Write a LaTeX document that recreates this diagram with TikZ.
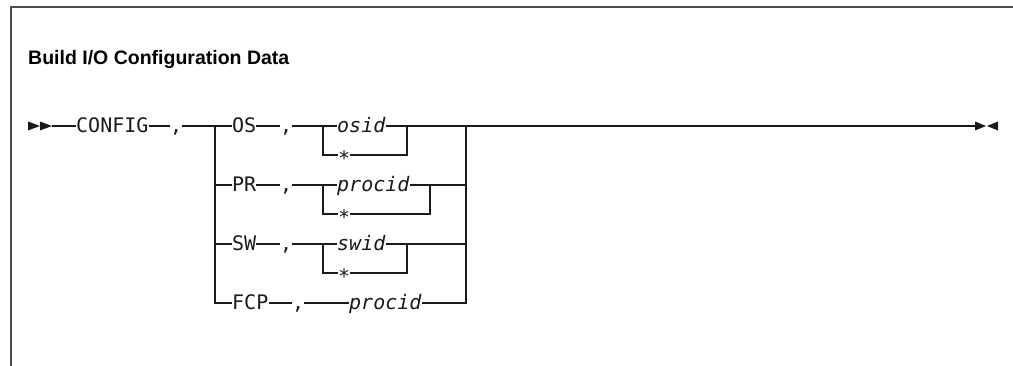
\documentclass[tikz,border=0pt]{standalone}
\usepackage{fontspec}
\setmainfont{Liberation Sans}
\setmonofont{DejaVu Sans Mono}
\usepackage{tikz}
\definecolor{ink}{HTML}{1A1A1A}
\definecolor{rule}{HTML}{4D4D4D}

\begin{document}
\begin{tikzpicture}[
  x=1pt, y=-1pt,
  tok/.style     = {anchor=west, inner sep=0pt, text height=14pt, text depth=0pt,
                    text=ink, font=\fontsize{20}{20}\selectfont\ttfamily},
  var/.style     = {tok, font=\fontsize{20}{20}\selectfont\ttfamily\itshape},
  rail/.style    = {draw=ink, line width=1.1pt},
  boxline/.style = {draw=rule, line width=2pt},
  tipfill/.style = {fill=ink},
]
  \useasboundingbox (0,0) rectangle (1013,366);
  \draw[boxline] (11,366) -- (11,7) -- (1013,7);

  \node[anchor=base west, inner sep=0pt, font=\fontsize{19.5}{19.5}\selectfont\bfseries] (title) at (28,65) {Build I/O Configuration Data};

  \coordinate (entry) at (52,126);
  \node[tok] (config) at (76,126)  {CONFIG};
  \node[tok] (c0)     at (170,126) {,};

  \node[tok] (os)     at (232,126) {OS};
  \node[tok] (c1)     at (280,126) {,};
  \node[var] (osid)   at (337,126) {osid};
  \node[tok] (star1)  at (338,155) {\raisebox{-3.5pt}{*}};

  \node[tok] (pr)     at (232,185) {PR};
  \node[tok] (c2)     at (280,185) {,};
  \node[var] (procid) at (337,185) {procid};
  \node[tok] (star2)  at (338,214) {\raisebox{-3.5pt}{*}};

  \node[tok] (sw)     at (232,244) {SW};
  \node[tok] (c3)     at (280,244) {,};
  \node[var] (swid)   at (337,244) {swid};
  \node[tok] (star3)  at (338,273) {\raisebox{-3.5pt}{*}};

  \node[tok] (fcp)    at (232,303) {FCP};
  \node[tok] (c4)     at (292,303) {,};
  \node[var] (fcpid)  at (349,303) {procid};

  \coordinate (split) at (215,126);
  \coordinate (splitend) at (215,303);
  \coordinate (k1) at (323,126);  \coordinate (k1s) at (323,155);
  \coordinate (k2) at (323,185);  \coordinate (k2s) at (323,214);
  \coordinate (k3) at (323,244);  \coordinate (k3s) at (323,273);
  \coordinate (e1) at (407,126);  \coordinate (e1s) at (407,155);
  \coordinate (e2) at (430,185);  \coordinate (e2s) at (430,214);
  \coordinate (e3) at (407,244);  \coordinate (e3s) at (407,273);
  \coordinate (join) at (466,126);
  \coordinate (joinend) at (466,303);
  \coordinate (exit) at (975,126);

  \fill[tipfill] (28,121.5) -- (40,126) -- (28,130.5) -- cycle;
  \fill[tipfill] (40,121.5) -- (entry) -- (40,130.5) -- cycle;
  \fill[tipfill] (975,121.5) -- (986,126) -- (975,130.5) -- cycle;
  \fill[tipfill] (998,121.5) -- (987,126) -- (998,130.5) -- cycle;

  \draw[rail] (entry) -- (config);
  \draw[rail] (config) -- (c0);
  \draw[rail] (c0) -- (os);
  \draw[rail] (split) -- (splitend) -- (fcp);
  \draw[rail] (split |- pr) -- (pr);
  \draw[rail] (split |- sw) -- (sw);

  \draw[rail] (os) -- (c1);
  \draw[rail] (c1) -- (osid);
  \draw[rail] (k1) -- (k1s) -- (star1);
  \draw[rail] (osid) -- (e1) -- (join);
  \draw[rail] (star1) -- (e1s) -- (e1);

  \draw[rail] (pr) -- (c2);
  \draw[rail] (c2) -- (procid);
  \draw[rail] (k2) -- (k2s) -- (star2);
  \draw[rail] (procid) -- (e2) -- (join |- e2);
  \draw[rail] (star2) -- (e2s) -- (e2);

  \draw[rail] (sw) -- (c3);
  \draw[rail] (c3) -- (swid);
  \draw[rail] (k3) -- (k3s) -- (star3);
  \draw[rail] (swid) -- (e3) -- (join |- e3);
  \draw[rail] (star3) -- (e3s) -- (e3);

  \draw[rail] (fcp) -- (c4);
  \draw[rail] (c4) -- (fcpid);
  \draw[rail] (fcpid) -- (joinend) -- (join);

  \draw[rail] (join) -- (exit);
\end{tikzpicture}
\end{document}
